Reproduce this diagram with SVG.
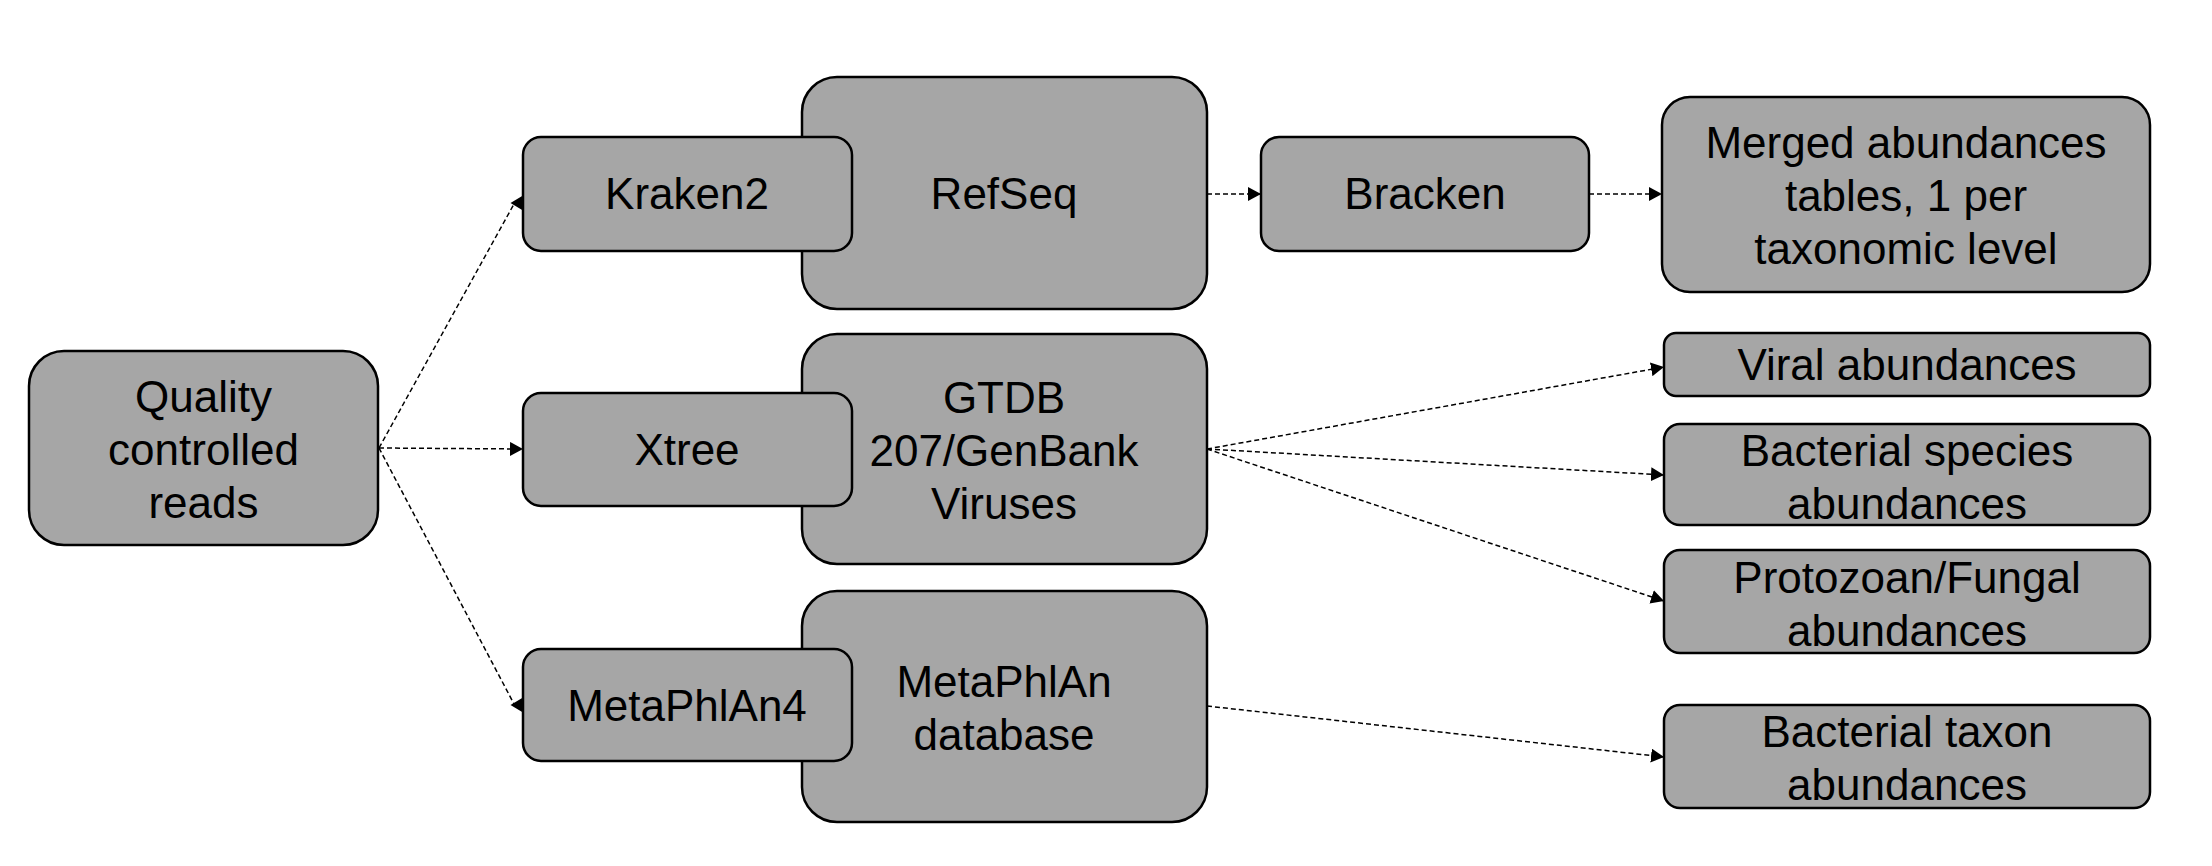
<svg xmlns="http://www.w3.org/2000/svg" width="2212" height="866" viewBox="0 0 2212 866">
<style>
.box{fill:#a6a6a6;stroke:#000;stroke-width:2.5}
.t{font-family:"Liberation Sans",Arial,sans-serif;font-size:44px;fill:#000;text-anchor:middle}
.c{fill:none;stroke:#000;stroke-width:1.5;stroke-dasharray:5,3}
.ah{fill:#000}
</style>
<defs>
<marker id="arr" markerUnits="userSpaceOnUse" markerWidth="14" markerHeight="14" refX="13" refY="7" orient="auto">
<path d="M0,0 L13,7 L0,14 z" fill="#000"/>
</marker>
</defs>
<rect width="2212" height="866" fill="#fff"/>
<g id="quality">
<rect class="box" x="29" y="351" width="349" height="194" rx="35"/>
<text class="t" x="203.5" y="412">Quality</text>
<text class="t" x="203.5" y="465">controlled</text>
<text class="t" x="203.5" y="518">reads</text>
</g>
<g id="refseq">
<rect class="box" x="802" y="77" width="405" height="232" rx="35"/>
<text class="t" x="1004" y="209">RefSeq</text>
</g>
<g id="kraken2">
<rect class="box" x="523" y="137" width="329" height="114" rx="18"/>
<text class="t" x="687" y="209">Kraken2</text>
</g>
<g id="gtdb">
<rect class="box" x="802" y="334" width="405" height="230" rx="35"/>
<text class="t" x="1004" y="413">GTDB</text>
<text class="t" x="1004" y="466">207/GenBank</text>
<text class="t" x="1004" y="519">Viruses</text>
</g>
<g id="xtree">
<rect class="box" x="523" y="393" width="329" height="113" rx="18"/>
<text class="t" x="687" y="465">Xtree</text>
</g>
<g id="metaphlandb">
<rect class="box" x="802" y="591" width="405" height="231" rx="35"/>
<text class="t" x="1004" y="697">MetaPhlAn</text>
<text class="t" x="1004" y="750">database</text>
</g>
<g id="metaphlan4">
<rect class="box" x="523" y="649" width="329" height="112" rx="18"/>
<text class="t" x="687" y="721">MetaPhlAn4</text>
</g>
<g id="bracken">
<rect class="box" x="1261" y="137" width="328" height="114" rx="18"/>
<text class="t" x="1425" y="209">Bracken</text>
</g>
<g id="merged">
<rect class="box" x="1662" y="97" width="488" height="195" rx="28"/>
<text class="t" x="1906" y="158">Merged abundances</text>
<text class="t" x="1906" y="211">tables, 1 per</text>
<text class="t" x="1906" y="264">taxonomic level</text>
</g>
<g id="viral">
<rect class="box" x="1664" y="333" width="486" height="63" rx="12"/>
<text class="t" x="1907" y="380">Viral abundances</text>
</g>
<g id="bactspecies">
<rect class="box" x="1664" y="424" width="486" height="101" rx="16"/>
<text class="t" x="1907" y="466">Bacterial species</text>
<text class="t" x="1907" y="519">abundances</text>
</g>
<g id="protozoan">
<rect class="box" x="1664" y="550" width="486" height="103" rx="16"/>
<text class="t" x="1907" y="593">Protozoan/Fungal</text>
<text class="t" x="1907" y="646">abundances</text>
</g>
<g id="bacttaxon">
<rect class="box" x="1664" y="705" width="486" height="103" rx="16"/>
<text class="t" x="1907" y="747">Bacterial taxon</text>
<text class="t" x="1907" y="800">abundances</text>
</g>
<g id="connectors">
<line class="c" x1="379" y1="448" x2="514" y2="204"/>
<polygon class="ah" points="510.5,203 523,195.5 523,210.5"/>
<line class="c" x1="379" y1="448" x2="523" y2="449" marker-end="url(#arr)"/>
<line class="c" x1="379" y1="448" x2="514" y2="704"/>
<polygon class="ah" points="510.5,705 523,697.5 523,712.5"/>
<line class="c" x1="1207" y1="194" x2="1261" y2="194" marker-end="url(#arr)"/>
<line class="c" x1="1589" y1="194" x2="1662" y2="194" marker-end="url(#arr)"/>
<line class="c" x1="1207" y1="449" x2="1664" y2="367" marker-end="url(#arr)"/>
<line class="c" x1="1207" y1="449" x2="1664" y2="475" marker-end="url(#arr)"/>
<line class="c" x1="1207" y1="449" x2="1664" y2="601" marker-end="url(#arr)"/>
<line class="c" x1="1207" y1="706" x2="1664" y2="757" marker-end="url(#arr)"/>
</g>
</svg>
